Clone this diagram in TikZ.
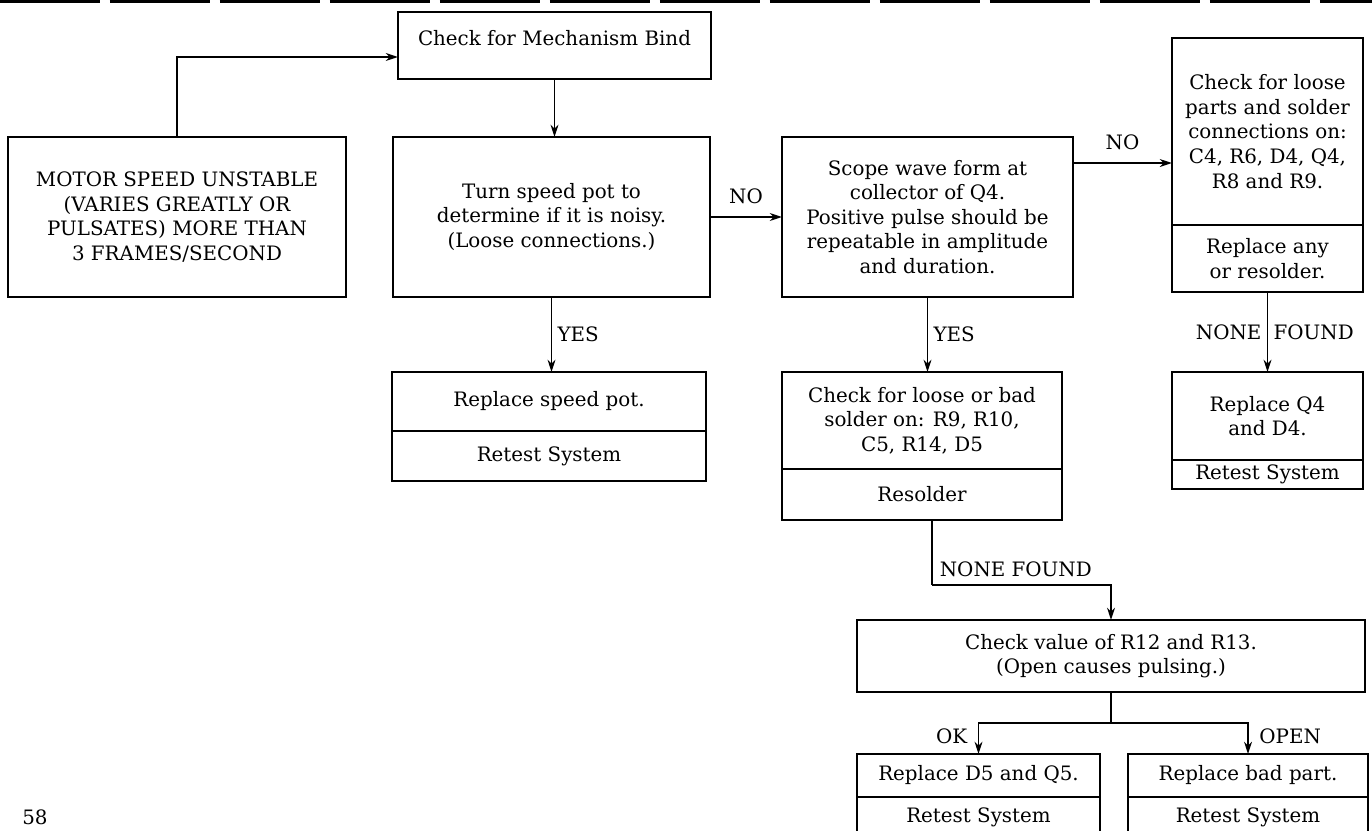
\documentclass[tikz,border=0pt]{standalone}
\usepackage{fontspec}
\setmainfont{DejaVu Serif}
\usetikzlibrary{arrows.meta, positioning, calc}
\tikzset{
  box/.style={rectangle, draw, line width=1.1pt, inner sep=2pt, outer sep=0pt,
              align=center, font=\fontsize{11.3}{14}\selectfont},
  arr/.style={-{Stealth[length=7pt, width=4.5pt]}, line width=0.95pt},
  ln/.style={line width=0.95pt},
  lbl/.style={font=\fontsize{11.3}{14}\selectfont, inner sep=3pt},
}
\begin{document}
\begin{tikzpicture}[x=0.02cm, y=-0.02cm, node distance=0pt]
  \useasboundingbox (0,0) rectangle (1372,831);
  % torn page rule at the top
  \draw[line width=2pt, dash pattern=on 2cm off 0.2cm] (0,1.5) -- (1372,1.5);

  \node[box, minimum width=6.26cm, minimum height=1.34cm, text depth=0.32cm] (bind) at (554.5,45.5) {Check for Mechanism Bind};
  \node[box, minimum width=6.76cm, minimum height=3.2cm] (motor) at (177,217)
    {MOTOR SPEED UNSTABLE\\(VARIES GREATLY OR\\PULSATES) MORE THAN\\3 FRAMES/SECOND};
  \node[box, minimum width=6.34cm, minimum height=3.2cm] (turn) at (551.5,217)
    {Turn speed pot to\\determine if it is noisy.\\(Loose connections.)};
  \node[box, minimum width=5.82cm, minimum height=3.2cm] (scope) at (927.5,217)
    {Scope wave form at\\collector of Q4.\\Positive pulse should be\\repeatable in amplitude\\and duration.};

  \node[box, minimum width=3.82cm, minimum height=3.74cm] (loose) at (1267.5,131.5)
    {Check for loose\\parts and solder\\connections on:\\C4, R6, D4, Q4,\\R8 and R9.};
  \node[box, minimum width=3.82cm, minimum height=1.34cm, below=of loose] (loosefix) {Replace any\\or resolder.};

  \node[box, minimum width=6.28cm, minimum height=1.18cm] (pot) at (549,401.5) {Replace speed pot.};
  \node[box, minimum width=6.28cm, minimum height=1.0cm, below=of pot] (potrt) {Retest System};

  \node[box, minimum width=5.6cm, minimum height=1.94cm] (bad) at (922,420.5)
    {Check for loose or bad\\solder on: R9, R10,\\C5, R14, D5};
  \node[box, minimum width=5.6cm, minimum height=1.02cm, below=of bad] (badfix) {Resolder};

  \node[box, minimum width=3.82cm, minimum height=1.76cm] (qfour) at (1267.5,416) {Replace Q4\\and D4.};
  \node[box, minimum width=3.82cm, minimum height=0.58cm, below=of qfour] (qfourrt) {Retest System};

  \node[box, minimum width=10.16cm, minimum height=1.44cm] (value) at (1111,656)
    {Check value of R12 and R13.\\(Open causes pulsing.)};

  \node[box, minimum width=4.86cm, minimum height=0.86cm] (dfive) at (978.5,775.5) {Replace D5 and Q5.};
  \node[box, minimum width=4.86cm, minimum height=0.8cm, below=of dfive] (dfivert) {Retest System};
  \node[box, minimum width=4.8cm, minimum height=0.86cm] (part) at (1248,775.5) {Replace bad part.};
  \node[box, minimum width=4.8cm, minimum height=0.8cm, below=of part] (partrt) {Retest System};

  \node[lbl] (page) at (35,817) {58};

  % connectors
  \draw[arr] (motor.north) |- ([yshift=-0.23cm]bind.west);
  \draw[arr] (bind.south) -- (bind.south |- turn.north);
  \draw[arr] (turn.east) -- node[lbl, above=4pt]{NO} (scope.west);
  \draw[arr] ([yshift=1.08cm]scope.east) -- node[lbl, above=4pt]{NO} ([yshift=1.08cm]scope.east -| loose.west);
  \draw[arr] (turn.south) -- node[lbl, right]{YES} (turn.south |- pot.north);
  \draw[arr] (scope.south) -- node[lbl, right]{YES} (scope.south |- bad.north);
  \draw[arr] (loosefix.south) -- node[lbl, left]{NONE} node[lbl, right]{FOUND} (loosefix.south |- qfour.north);

  \coordinate (nf) at ([xshift=0.2cm, yshift=-1.3cm]badfix.south);
  \draw[ln] ([xshift=0.2cm]badfix.south) -- (nf) node[lbl, above right, inner sep=4pt]{NONE FOUND};
  \draw[arr] (nf) -| (value.north);

  \coordinate (split) at ([yshift=-0.62cm]value.south);
  \draw[ln] (value.south) -- (split);
  \draw[arr] (split) -| node[lbl, pos=0.72, left=3pt]{OK} (dfive.north);
  \draw[arr] (split) -| node[lbl, pos=0.72, right=3pt]{OPEN} (part.north);
\end{tikzpicture}
\end{document}
